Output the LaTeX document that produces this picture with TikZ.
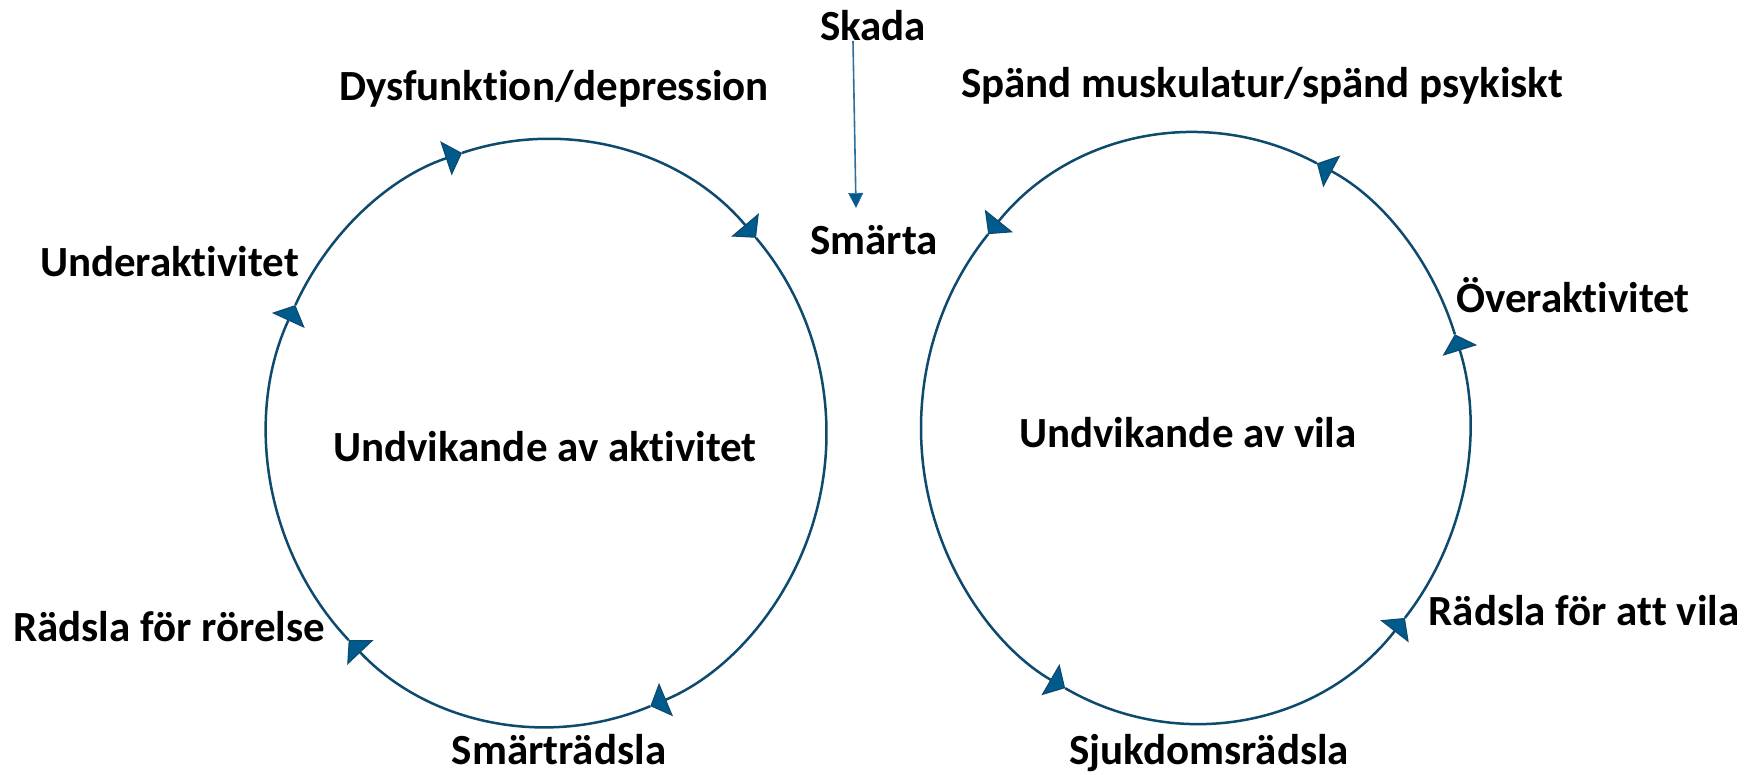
\documentclass[tikz,border=0pt]{standalone}
\usepackage{fontspec}
\setmainfont{Carlito}[Ligatures={NoCommon,NoContextual}]
\usetikzlibrary{arrows.meta,calc}
\definecolor{circline}{HTML}{0E4A6E}
\definecolor{tipfill}{HTML}{005B8D}
\definecolor{skline}{HTML}{2F6F9C}
\tikzset{
  lbl/.style={anchor=base, inner sep=0pt, font=\fontsize{21.5pt}{25pt}\selectfont\bfseries, text=black},
  cyc/.style={draw=circline, line width=1.25pt,
    -{Triangle[width=18pt,length=8.5pt,fill=tipfill,line width=0.6pt]}},
  skarrow/.style={draw=skline, line width=0.8pt,
    -{Triangle[width=7.5pt,length=7.5pt,fill=tipfill,line width=0.3pt]}}
}
\begin{document}
\begin{tikzpicture}[x=0.5pt,y=-0.5pt]
\useasboundingbox (0,0) rectangle (1744,775);
% centres of the two cycles
\coordinate (L) at (547,433);
\coordinate (R) at (1195,428);
% left cycle (clockwise)
\foreach \a/\b in {-41.6/68.3, 68.3/135.2, 135.2/205.8, 205.8/252.3, 252.3/318.4}{
  \draw[cyc] ([shift={(\a:279.5 and 294)}]L) arc[start angle=\a, end angle=\b, x radius=279.5, y radius=294];
}
% right cycle (counter-clockwise)
\foreach \a/\b in {296.4/221, 221/118.3, 118.3/40, 40/-18.5, -18.5/-63.6}{
  \draw[cyc] ([shift={(\a:274 and 295.5)}]R) arc[start angle=\a, end angle=\b, x radius=274, y radius=295.5];
}
% labels
\node[lbl] (skada) at (873,41) {Skada};
\node[lbl] (smarta) at (874,255) {Smärta};
\node[lbl] (dys) at (554,101) {Dysfunktion/depression};
\node[lbl] (spand) at (1262,98) {Spänd muskulatur/spänd psykiskt};
\node[lbl] (under) at (169.5,277) {Underaktivitet};
\node[lbl] (over) at (1573,312) {Överaktivitet};
\node[lbl] (uakt) at (545,461) {Undvikande av aktivitet};
\node[lbl] (uvila) at (1188,447) {Undvikande av vila};
\node[lbl] (rorelse) at (169,641) {Rädsla för rörelse};
\node[lbl] (attvila) at (1584,625) {Rädsla för att vila};
\node[lbl] (smrad) at (559,764) {Smärträdsla};
\node[lbl] (sjuk) at (1209,764) {Sjukdomsrädsla};
% Skada -> Smärta
\draw[skarrow] ($(skada.base)+(-20,0)$) -- ($(smarta.base)+(-18,-47)$);
\end{tikzpicture}
\end{document}
